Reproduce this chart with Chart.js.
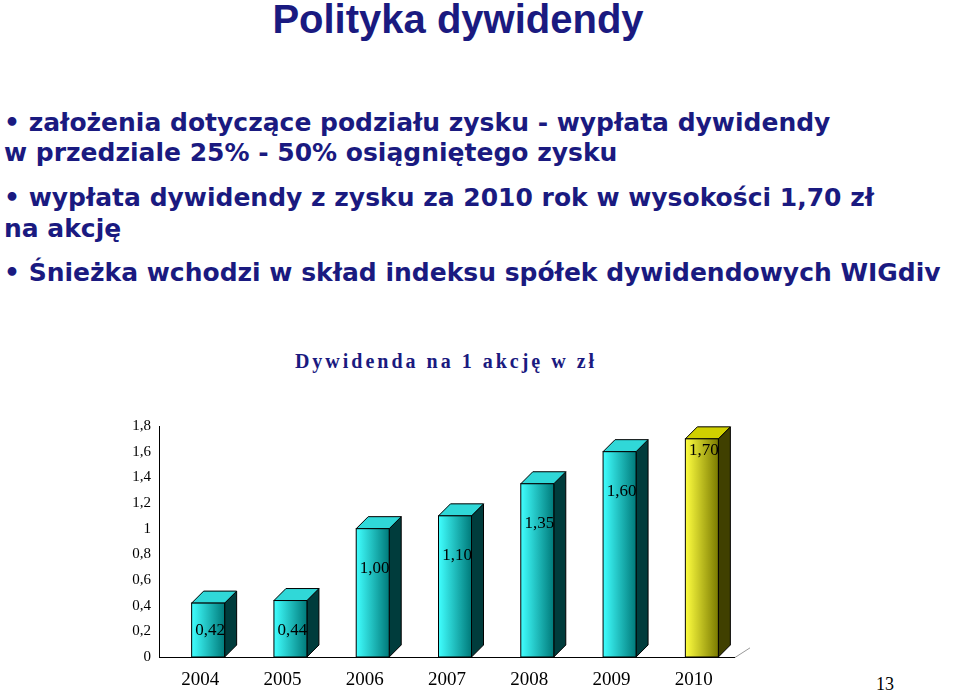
<!DOCTYPE html>
<html>
<head>
<meta charset="utf-8">
<script src="https://cdn.jsdelivr.net/npm/chart.js@4"></script>
<style>
  body { margin: 0; width: 960px; height: 694px; background: #fff; position: relative; overflow: hidden; font-family: "DejaVu Sans", Verdana, sans-serif; }
  h1 { position: absolute; left: 0; width: 916px; top: -3px; margin: 0; text-align: center; font: bold 40px "Liberation Sans", Arial, sans-serif; color: #1a1a80; }
  .txt { position: absolute; left: 4px; color: #1a1a80; font-weight: bold; font-size: 25px; white-space: nowrap; }
  .ctitle { position: absolute; left: 0; width: 892px; top: 350px; text-align: center; font: bold 20px "Liberation Serif", "Times New Roman", serif; color: #1a1a80; letter-spacing: 3px; }
  #wrap { position: absolute; left: 110px; top: 410px; width: 640px; height: 284px; }
  .page { position: absolute; left: 876px; top: 674px; font: 18px "Liberation Serif", serif; }
</style>
</head>
<body>
<h1>Polityka dywidendy</h1>
<div class="txt" style="top:108px">• założenia dotyczące podziału zysku - wypłata dywidendy</div>
<div class="txt" style="top:138px">w przedziale 25% - 50% osiągniętego zysku</div>
<div class="txt" style="top:183px">• wypłata dywidendy z zysku za 2010 rok w wysokości 1,70 zł</div>
<div class="txt" style="top:214px">na akcję</div>
<div class="txt" style="top:258px">• Śnieżka wchodzi w skład indeksu spółek dywidendowych WIGdiv</div>
<div class="ctitle">Dywidenda na 1 akcję w zł</div>
<div id="wrap"><canvas id="c" width="640" height="284"></canvas></div>
<div class="page">13</div>
<script>
const years = ['2004', '2005', '2006', '2007', '2008', '2009', '2010'];
const dividends = [0.42, 0.44, 1.00, 1.10, 1.35, 1.60, 1.70];
const yTicks = [0, 0.2, 0.4, 0.6, 0.8, 1, 1.2, 1.4, 1.6, 1.8];

const fmt = v => v.toFixed(2).replace('.', ',');
const D = 12; // 3D depth

const bars3d = {
    id: 'bars3d',
    afterDatasetsDraw(chart) {
        const ctx = chart.ctx;
        const area = chart.chartArea;
        const meta = chart.getDatasetMeta(0);
        ctx.save();
        // floor
        ctx.strokeStyle = '#999';
        ctx.lineWidth = 1;
        ctx.beginPath();
        ctx.moveTo(area.right, area.bottom + 0.5);
        ctx.lineTo(area.right + 35, area.bottom - 22);
        ctx.stroke();
        ctx.strokeStyle = '#000';
        ctx.beginPath();
        ctx.moveTo(area.left, area.bottom + 0.5);
        ctx.lineTo(area.right, area.bottom + 0.5);
        ctx.stroke();

        meta.data.forEach((bar, i) => {
            const last = i === dividends.length - 1;
            const w = bar.width, l = bar.x - w / 2 + 8, r = l + w, t = bar.y, b = bar.base;
            const g = ctx.createLinearGradient(l, 0, r, 0);
            g.addColorStop(0, last ? '#ffff40' : '#40ffff');
            g.addColorStop(1, last ? '#7a7a00' : '#007a7a');
            ctx.strokeStyle = '#000';
            ctx.lineWidth = 1;
            ctx.fillStyle = last ? '#404000' : '#003c3c';
            ctx.beginPath();
            ctx.moveTo(r, b); ctx.lineTo(r + D, b - D); ctx.lineTo(r + D, t - D); ctx.lineTo(r, t);
            ctx.closePath(); ctx.fill(); ctx.stroke();
            ctx.fillStyle = last ? '#d0d000' : '#30d8d8';
            ctx.beginPath();
            ctx.moveTo(l, t); ctx.lineTo(l + D, t - D); ctx.lineTo(r + D, t - D); ctx.lineTo(r, t);
            ctx.closePath(); ctx.fill(); ctx.stroke();
            ctx.fillStyle = g;
            ctx.fillRect(l, t, w, b - t);
            ctx.strokeRect(l, t, w, b - t);
            ctx.fillStyle = '#000';
            ctx.font = '17px "Liberation Serif", serif';
            ctx.textAlign = 'center';
            ctx.textBaseline = 'middle';
            const ly = Math.min(t + 40, b - 26);
            ctx.fillText(fmt(dividends[i]), l + w / 2 + 2, last ? t + 12 : ly);
        });
        ctx.restore();
    }
};

new Chart(document.getElementById('c'), {
    type: 'bar',
    data: {
        labels: years,
        datasets: [{ data: dividends, backgroundColor: 'rgba(0,0,0,0)', barThickness: 33 }]
    },
    options: {
        responsive: false,
        animation: false,
        layout: { padding: { top: 16, right: 15, left: 0, bottom: 0 } },
        plugins: { legend: { display: false }, tooltip: { enabled: false } },
        scales: {
            x: {
                grid: { display: false, drawTicks: false },
                border: { display: false },
                ticks: { color: '#000', padding: 12, font: { family: 'Liberation Serif', size: 19 } },
                afterFit(s) { s.height = 37; }
            },
            y: {
                min: 0, max: 1.8,
                afterBuildTicks(s) { s.ticks = yTicks.map(v => ({ value: v })); },
                grid: { display: false, drawTicks: true, tickLength: 5 },
                border: { display: true, color: '#000' },
                ticks: {
                    color: '#000', padding: 3,
                    font: { family: 'Liberation Serif', size: 15 },
                    callback: v => String(v).replace('.', ',')
                },
                afterFit(s) { s.width = 49; }
            }
        }
    },
    plugins: [bars3d]
});
</script>
</body>
</html>
